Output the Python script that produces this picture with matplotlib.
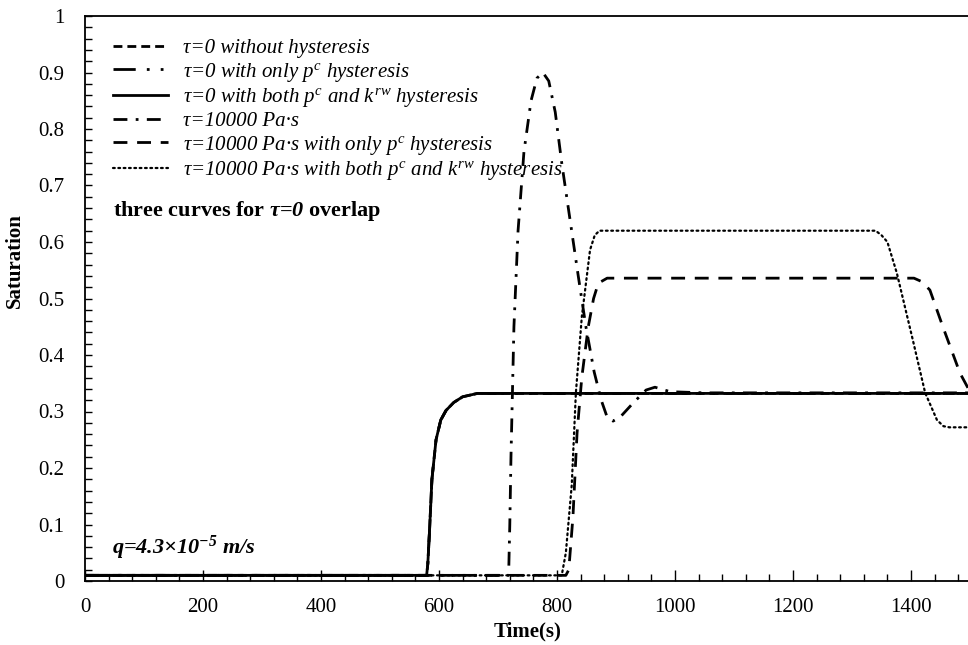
import numpy as np
import matplotlib
matplotlib.use("Agg")
import matplotlib.pyplot as plt
from matplotlib.ticker import MultipleLocator

plt.rcParams["font.family"] = ["Liberation Serif", "DejaVu Serif"]
plt.rcParams["mathtext.fontset"] = "custom"
plt.rcParams["mathtext.rm"] = "Liberation Serif"
plt.rcParams["mathtext.it"] = "Liberation Serif:italic"
plt.rcParams["mathtext.bf"] = "Liberation Serif:bold"
plt.rcParams["mathtext.bfit"] = "Liberation Serif:bold:italic"

# --- tau = 0 (three curves overlap) ---
t_tau0 = [0, 579, 581, 584, 588, 595, 603, 612, 625, 640, 665, 1500]
s_tau0 = [0.01, 0.01, 0.03, 0.09, 0.18, 0.25, 0.285, 0.302, 0.316, 0.326, 0.332, 0.332]

# --- tau = 10000 Pa.s ---
t_tau1 = [0, 718, 720, 722, 727, 734, 744, 756, 766, 776, 786, 797, 808, 822,
          836, 849, 863, 875, 885, 895, 907, 929, 951, 966, 992, 1050, 1500]
s_tau1 = [0.01, 0.01, 0.1, 0.22, 0.45, 0.62, 0.76, 0.85, 0.89, 0.90, 0.885,
          0.83, 0.74, 0.64, 0.54, 0.45, 0.37, 0.32, 0.29, 0.283, 0.29, 0.315,
          0.338, 0.343, 0.335, 0.333, 0.333]

# --- tau = 10000 Pa.s with only pc hysteresis ---
t_tau1_pc = [0, 815, 820, 827, 834, 842, 853, 862, 870, 885, 1405, 1418,
             1432, 1454, 1483, 1500]
s_tau1_pc = [0.01, 0.01, 0.02, 0.113, 0.262, 0.36, 0.45, 0.50, 0.527, 0.536,
             0.536, 0.53, 0.515, 0.45, 0.368, 0.335]

# --- tau = 10000 Pa.s with both pc and krw hysteresis ---
t_tau1_both = [0, 808, 815, 825, 832, 842, 856, 864, 872, 1340, 1350, 1360,
               1376, 1403, 1424, 1444, 1455, 1465, 1500]
s_tau1_both = [0.01, 0.01, 0.05, 0.17, 0.333, 0.467, 0.586, 0.612, 0.62, 0.62,
               0.612, 0.60, 0.545, 0.427, 0.333, 0.285, 0.274, 0.272, 0.272]

labels = [
    r"τ=0 without hysteresis",
    r"τ=0 with only $p^{c}$ hysteresis",
    r"τ=0 with both $p^{c}$ and $k^{rw}$ hysteresis",
    r"τ=10000 Pa·s",
    r"τ=10000 Pa·s with only $p^{c}$ hysteresis",
    r"τ=10000 Pa·s with both $p^{c}$ and $k^{rw}$ hysteresis",
]

fig = plt.figure(figsize=(9.68, 6.45), dpi=100)
ax = fig.add_axes([85 / 968, 64 / 645, 885 / 968, 565 / 645])

k = "black"
ax.plot(t_tau0, s_tau0, color=k, lw=2.0, dashes=(3.2, 1.8), label=labels[0])
ax.plot(t_tau0, s_tau0, color=k, lw=2.0, dashes=(8, 4, 1, 4, 1, 4), label=labels[1])
ax.plot(t_tau0, s_tau0, color=k, lw=2.0, label=labels[2])
ax.plot(t_tau1, s_tau1, color=k, lw=2.0, dashes=(5, 3, 1, 3), label=labels[3])
ax.plot(t_tau1_pc, s_tau1_pc, color=k, lw=2.0, dashes=(5, 3.5), label=labels[4])
ax.plot(t_tau1_both, s_tau1_both, color=k, lw=1.6, dashes=(0.8, 1.6),
        dash_capstyle="round", label=labels[5])

ax.set_xlim(0, 1500)
ax.set_ylim(0, 1)
ax.xaxis.set_major_locator(MultipleLocator(200))
ax.xaxis.set_minor_locator(MultipleLocator(40))
ax.yaxis.set_major_locator(MultipleLocator(0.1))
ax.yaxis.set_minor_locator(MultipleLocator(0.02))
ax.set_yticks(np.arange(0, 1.01, 0.1))
ax.set_yticklabels(["0", "0.1", "0.2", "0.3", "0.4", "0.5", "0.6", "0.7", "0.8", "0.9", "1"])
ax.tick_params(which="both", direction="in", labelsize=15, width=1.0, color=k)
ax.tick_params(axis="x", which="major", length=8, pad=12)
ax.tick_params(axis="x", which="minor", length=5)
ax.tick_params(axis="y", which="both", length=5, pad=15)
ax.spines["right"].set_visible(False)
for s in ["left", "bottom", "top"]:
    ax.spines[s].set_linewidth(1.3)

ax.set_xlabel("Time(s)", fontsize=15, fontweight="bold", va="center")
ax.set_ylabel("Saturation", fontsize=15, fontweight="bold", va="center")
ax.xaxis.set_label_coords(0.5, -0.09)
ax.yaxis.set_label_coords(-0.079, 0.568)

ax.legend(loc="upper left", bbox_to_anchor=(0.0224, 0.975), frameon=False,
          prop={"style": "italic", "size": 15}, handlelength=2.65,
          handletextpad=0.72, labelspacing=0.12, borderaxespad=0)

ax.text(0.032, 0.655, r"three curves for $\mathbfit{τ}$=$\mathbfit{0}$ overlap",
        transform=ax.transAxes, fontsize=16, fontweight="bold", va="center")
ax.text(0.031, 0.058, r"q=4.3×10$^{\mathbfit{-5}}$ m/s",
        transform=ax.transAxes, fontsize=16, fontweight="bold",
        style="italic", va="center")

fig.savefig("out.png", dpi=100)
